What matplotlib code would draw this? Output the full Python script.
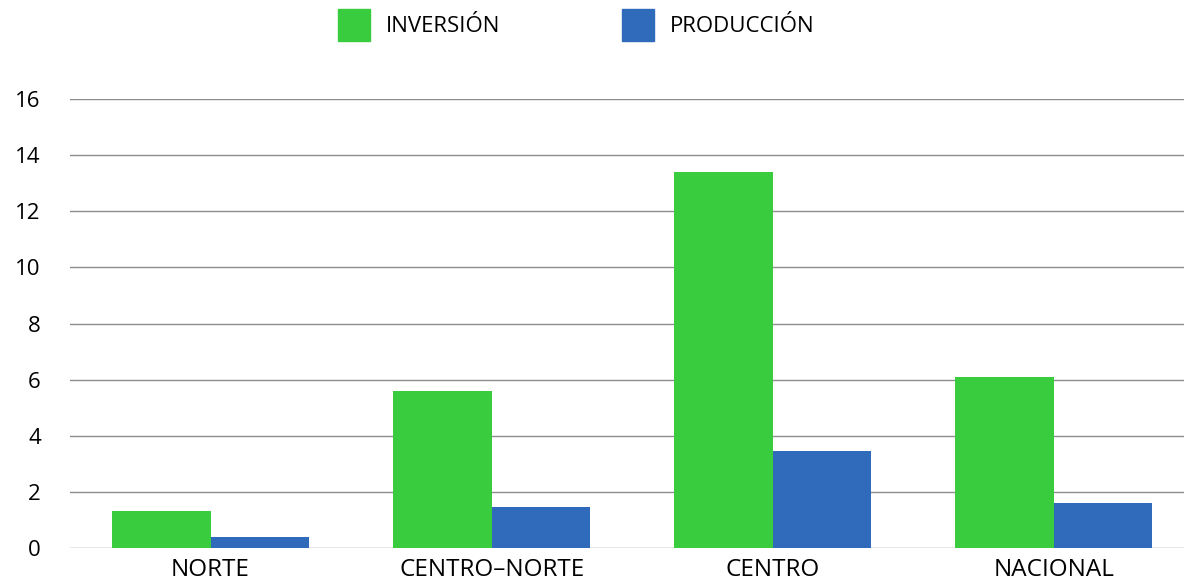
import matplotlib.pyplot as plt
from matplotlib.patches import Patch
import numpy as np

plt.rcParams['font.family'] = ['Open Sans', 'DejaVu Sans']

# Datos
regiones = ['NORTE', 'CENTRO–NORTE', 'CENTRO', 'NACIONAL']
inversion = [1.32, 5.6, 13.4, 6.1]
produccion = [0.39, 1.46, 3.46, 1.6]

verde = '#3ACC3F'
azul = '#2F6BBA'

fig = plt.figure(figsize=(11.84, 5.87), dpi=100)
ax = fig.add_axes([70 / 1184, 1 - 548 / 587, 1 - 70 / 1184, (548 - 99) / 587])

x = np.arange(len(regiones))
w = 0.35
ax.bar(x - w / 2, inversion, w, color=verde, zorder=3)
ax.bar(x + w / 2, produccion, w, color=azul, zorder=3)

ax.set_ylim(0, 16)
ax.set_xlim(-0.5, 3.463)
ax.set_yticks(range(0, 17, 2))
ax.set_xticks(x)
ax.set_xticklabels(regiones, fontsize=17.5)
ax.tick_params(axis='y', labelsize=16, length=0, pad=21)
ax.tick_params(axis='x', length=0, pad=7)
ax.grid(axis='y', color='#8c8c8c', linewidth=1, zorder=0)
for s in ax.spines.values():
    s.set_visible(False)

handles = [Patch(color=verde, label='INVERSIÓN'), Patch(color=azul, label='PRODUCCIÓN')]
fig.legend(handles=handles, loc='center', bbox_to_anchor=(576 / 1184, 1 - 25 / 587),
           ncol=2, frameon=False, fontsize=16, handlelength=1.45, handleheight=1.8,
           handletextpad=0.7, columnspacing=5.5)

fig.savefig('out.png', dpi=100)
